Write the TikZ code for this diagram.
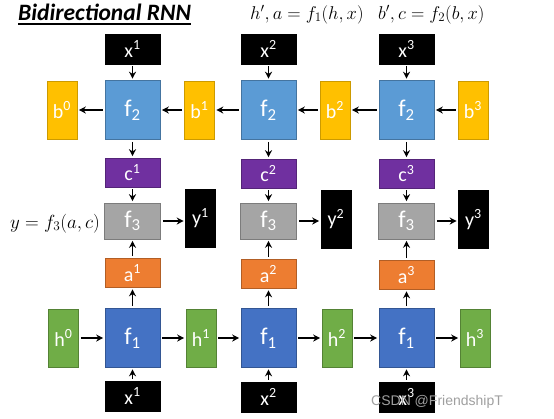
\RequirePackage{fix-cm}
\documentclass[tikz,border=0pt]{standalone}
\usepackage{fontspec}
\usetikzlibrary{arrows.meta}
\newfontfamily\boxfont{Carlito}
\newfontfamily\markfont{Liberation Sans}
\definecolor{fonecol}{HTML}{4472C4}
\definecolor{ftwocol}{HTML}{5B9BD5}
\definecolor{fthreecol}{HTML}{A5A5A5}
\definecolor{bcol}{HTML}{FFC000}
\definecolor{hcol}{HTML}{70AD47}
\definecolor{acol}{HTML}{ED7D31}
\definecolor{ccol}{HTML}{7030A0}
\tikzset{
    bi cell/.style={line width=0.6pt, text=white, inner sep=0pt,
                    font=\boxfont\fontsize{20}{24}\selectfont},
    bi fone/.style={bi cell, fill=fonecol, draw=fonecol!75!black,
                    minimum width=55pt, minimum height=59pt,
                    font=\boxfont\fontsize{24}{28}\selectfont},
    bi ftwo/.style={bi fone, fill=ftwocol, draw=ftwocol!75!black},
    bi fthree/.style={bi fone, fill=fthreecol, draw=fthreecol!75!black,
                      minimum width=56pt, minimum height=36pt},
    bi state/.style={bi cell, minimum width=30pt, minimum height=58pt},
    bi hid/.style={bi state, fill=hcol, draw=hcol!75!black},
    bi back/.style={bi state, fill=bcol, draw=bcol!80!black},
    bi out/.style={bi state, fill=black, draw=black},
    bi in/.style={bi cell, fill=black, draw=black,
                  minimum width=55pt, minimum height=30pt},
    bi mid/.style={bi cell, minimum width=55pt, minimum height=29pt},
    bi a/.style={bi mid, fill=acol, draw=acol!75!black},
    bi c/.style={bi mid, fill=ccol, draw=ccol!75!black},
    bi arrow/.style={-{Stealth[length=7pt, width=7pt]}, line width=1.7pt,
                     shorten <=2pt, shorten >=1.5pt},
    bi eq/.style={anchor=base west, inner sep=0pt,
                  font=\fontsize{18.5}{22}\selectfont},
}

\begin{document}
\begin{tikzpicture}[x=1pt, y=-1pt]
    \useasboundingbox (0,0) rectangle (554,418);
    % Title and equations
    \node[anchor=base west, inner sep=0pt,
          font=\boxfont\bfseries\itshape\fontsize{23.5}{26}\selectfont]
          (title) at (18,20) {Bidirectional RNN};
    \draw[line width=1.4pt] ([yshift=-4pt]title.base west)
          -- ([yshift=-4pt]title.base east);
    \node[bi eq] (eqone) at (250,19) {$h', a = f_1(h, x)$};
    \node[bi eq] (eqtwo) at (378,19) {$b', c = f_2(b, x)$};
    \node[bi eq, font=\fontsize{19}{22}\selectfont] (eqthree) at (10,228)
          {$y = f_3(a, c)$};
    % Row of top inputs
    \node[bi in] (xt1) at (132.5,49) {x\textsuperscript{1}};
    \node[bi in] (xt2) at (268.5,49) {x\textsuperscript{2}};
    \node[bi in] (xt3) at (406.5,49) {x\textsuperscript{3}};
    % Backward row
    \node[bi back] (b0) at (62,110) {b\textsuperscript{0}};
    \node[bi ftwo] (ftwo1) at (132.5,110) {f\textsubscript{2}};
    \node[bi back] (b1) at (199.5,110) {b\textsuperscript{1}};
    \node[bi ftwo] (ftwo2) at (268.5,110) {f\textsubscript{2}};
    \node[bi back] (b2) at (335,110) {b\textsuperscript{2}};
    \node[bi ftwo] (ftwo3) at (406.5,110) {f\textsubscript{2}};
    \node[bi back] (b3) at (473,110) {b\textsuperscript{3}};
    % c row
    \node[bi c] (c1) at (132.5,172.5) {c\textsuperscript{1}};
    \node[bi c] (c2) at (268.5,173.5) {c\textsuperscript{2}};
    \node[bi c] (c3) at (406.5,173.5) {c\textsuperscript{3}};
    % Output row
    \node[bi fthree] (fthree1) at (132.5,221) {f\textsubscript{3}};
    \node[bi out] (y1) at (200.5,218) {y\textsuperscript{1}};
    \node[bi fthree] (fthree2) at (268.5,221) {f\textsubscript{3}};
    \node[bi out] (y2) at (336,219) {y\textsuperscript{2}};
    \node[bi fthree] (fthree3) at (406.5,221) {f\textsubscript{3}};
    \node[bi out] (y3) at (473.5,219.5) {y\textsuperscript{3}};
    % a row
    \node[bi a] (a1) at (132.5,273) {a\textsuperscript{1}};
    \node[bi a] (a2) at (268.5,274) {a\textsuperscript{2}};
    \node[bi a] (a3) at (406.5,275) {a\textsuperscript{3}};
    % Forward row
    \node[bi hid] (h0) at (63.5,338) {h\textsuperscript{0}};
    \node[bi fone] (fone1) at (132.5,338) {f\textsubscript{1}};
    \node[bi hid] (h1) at (201,338) {h\textsuperscript{1}};
    \node[bi fone] (fone2) at (268.5,338) {f\textsubscript{1}};
    \node[bi hid] (h2) at (337,338) {h\textsuperscript{2}};
    \node[bi fone] (fone3) at (406.5,338) {f\textsubscript{1}};
    \node[bi hid] (h3) at (475,338) {h\textsuperscript{3}};
    % Row of bottom inputs
    \node[bi in] (xb1) at (132.5,396) {x\textsuperscript{1}};
    \node[bi in] (xb2) at (268.5,397) {x\textsuperscript{2}};
    \node[bi in] (xb3) at (406.5,397) {x\textsuperscript{3}};
    % Backward chain
    \draw[bi arrow] (ftwo1) -- (b0);
    \draw[bi arrow] (b1) -- (ftwo1);
    \draw[bi arrow] (ftwo2) -- (b1);
    \draw[bi arrow] (b2) -- (ftwo2);
    \draw[bi arrow] (ftwo3) -- (b2);
    \draw[bi arrow] (b3) -- (ftwo3);
    % Forward chain
    \draw[bi arrow] (h0) -- (fone1);
    \draw[bi arrow] (fone1) -- (h1);
    \draw[bi arrow] (h1) -- (fone2);
    \draw[bi arrow] (fone2) -- (h2);
    \draw[bi arrow] (h2) -- (fone3);
    \draw[bi arrow] (fone3) -- (h3);
    % Columns
    \draw[bi arrow] (xt1) -- (ftwo1);
    \draw[bi arrow] (xt2) -- (ftwo2);
    \draw[bi arrow] (xt3) -- (ftwo3);
    \draw[bi arrow] (ftwo1) -- (c1);
    \draw[bi arrow] (ftwo2) -- (c2);
    \draw[bi arrow] (ftwo3) -- (c3);
    \draw[bi arrow] (c1) -- (fthree1);
    \draw[bi arrow] (c2) -- (fthree2);
    \draw[bi arrow] (c3) -- (fthree3);
    \draw[bi arrow] (a1) -- (fthree1);
    \draw[bi arrow] (a2) -- (fthree2);
    \draw[bi arrow] (a3) -- (fthree3);
    \draw[bi arrow] (fone1) -- (a1);
    \draw[bi arrow] (fone2) -- (a2);
    \draw[bi arrow] (fone3) -- (a3);
    \draw[bi arrow] (xb1) -- (fone1);
    \draw[bi arrow] (xb2) -- (fone2);
    \draw[bi arrow] (xb3) -- (fone3);
    \draw[bi arrow] (fthree1) -- (fthree1 -| y1.west);
    \draw[bi arrow] (fthree2) -- (fthree2 -| y2.west);
    \draw[bi arrow] (fthree3) -- (fthree3 -| y3.west);
    % Watermark
    \node[anchor=base west, inner sep=0pt, text=gray!75,
          font=\markfont\fontsize{14}{16}\selectfont] (mark) at (371,405)
          {CSDN @FriendshipT};
\end{tikzpicture}
\end{document}
